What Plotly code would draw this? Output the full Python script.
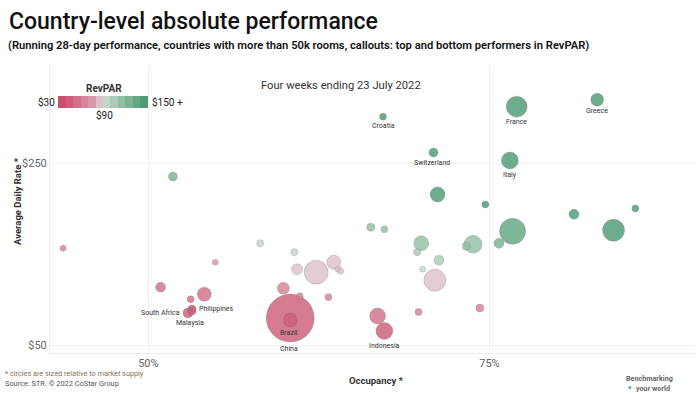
import plotly.graph_objects as go
import pandas as pd

# ---------------- data ----------------
countries = [
    "Greece", "France", "Croatia", "Switzerland", "Italy",
    "", "", "", "", "", "", "", "", "", "", "", "", "", "", "",
    "", "", "", "", "", "", "", "", "", "", "", "",
    "China", "Brazil", "", "Indonesia", "",
    "", "", "", "", "", "", "Philippines", "South Africa", "Malaysia",
]
occupancy = [  # %
    82.9, 77.0, 67.2, 70.9, 76.5,
    71.2, 74.7, 81.2, 85.7, 76.7, 84.1, 75.7, 73.8, 73.3, 70.0, 69.7, 66.3, 67.3, 71.3, 70.1,
    71.0, 74.3, 63.6, 63.9, 64.1, 62.3, 58.2, 60.7, 60.9, 59.9, 61.1, 63.2,
    60.4, 60.4, 66.8, 67.3, 69.8,
    43.75, 51.8, 54.9, 50.9, 53.1, 54.1, 53.2, 52.9, 53.2,
]
adr = [  # USD
    320.3, 312.6, 301.6, 262.1, 253.3,
    215.9, 204.9, 194.0, 200.5, 175.3, 176.4, 162.1, 161.0, 158.8, 162.1, 152.2, 179.7, 177.5, 143.4, 133.5,
    121.4, 90.7, 141.2, 133.5, 131.3, 130.2, 162.1, 152.2, 133.5, 112.6, 103.8, 102.7,
    79.7, 77.5, 81.9, 65.4, 86.3,
    156.6, 235.7, 141.2, 113.7, 100.5, 106.0, 89.6, 85.2, 87.4,
]
supply = [  # thousand rooms (relative market supply)
    246, 643, 71, 118, 421,
    328, 71, 146, 71, 986, 706, 146, 472, 93, 328, 71, 93, 71, 146, 52,
    706, 93, 286, 52, 52, 840, 71, 71, 176, 210, 71, 71,
    3360, 286, 373, 421, 71,
    52, 118, 52, 146, 71, 286, 93, 146, 93,
]
x_tick_vals = [50, 75]
x_tick_text = ["50%", "75%"]
y_tick_vals = [50, 250]
y_tick_text = ["$50", "$250"]
revpar_min, revpar_mid, revpar_max = 30, 90, 150

df = pd.DataFrame({"country": countries, "occ": occupancy, "adr": adr, "supply": supply})
df["revpar"] = df["occ"] * df["adr"] / 100.0
df = df.sort_values("supply", ascending=False).reset_index(drop=True)

# ---------------- styles ----------------
W, H = 700, 394
L, R, T, B = 50, 5, 65, 41
PW, PH = W - L - R, H - T - B
FONT = "Roboto"

steps = ["#c8506d", "#cc607b", "#d07189", "#d48398", "#d898a9", "#dec1ca",
         "#c2d7cb", "#a9cbb7", "#92c0a5", "#7bb394", "#64a784", "#4e9b75"]
colorscale = []
n = len(steps)
for i, c in enumerate(steps):
    colorscale.append([i / n, c])
    colorscale.append([(i + 1) / n, c])

max_diam = 48
sizeref = 2.0 * df["supply"].max() / max_diam ** 2

fig = go.Figure()
fig.add_trace(go.Scatter(
    x=df["occ"], y=df["adr"], mode="markers",
    text=df["country"],
    marker=dict(
        size=df["supply"], sizemode="area", sizeref=sizeref,
        color=df["revpar"], colorscale=colorscale, cmin=revpar_min, cmax=revpar_max,
        opacity=0.82,
        line=dict(color="rgba(90,90,90,0.35)", width=0.8),
        showscale=True,
        colorbar=dict(
            orientation="h", xref="container", yref="container",
            x=112 / W, xanchor="center", y=(H - 102) / H, yanchor="middle",
            len=90, lenmode="pixels", thickness=12, thicknessmode="pixels",
            xpad=0, ypad=0, outlinewidth=0, showticklabels=False, ticks="",
            title=dict(text=""),
        ),
    ),
    hovertemplate="%{text}<br>Occ %{x:.1f}%<br>ADR $%{y:.0f}<extra></extra>",
    showlegend=False,
))

# callout labels (pixel offsets are styling)
label_style = {
    "Greece": dict(xshift=0, yshift=-11, xanchor="center"),
    "France": dict(xshift=0, yshift=-15, xanchor="center"),
    "Croatia": dict(xshift=0, yshift=-9, xanchor="center"),
    "Switzerland": dict(xshift=-1, yshift=-10, xanchor="center"),
    "Italy": dict(xshift=0, yshift=-15, xanchor="center"),
    "Brazil": dict(xshift=-1, yshift=-13, xanchor="center"),
    "China": dict(xshift=-1, yshift=-31, xanchor="center"),
    "Indonesia": dict(xshift=0, yshift=-15, xanchor="center"),
    "South Africa": dict(xshift=-6, yshift=0, xanchor="right"),
    "Malaysia": dict(xshift=-2, yshift=-12, xanchor="center"),
    "Philippines": dict(xshift=5, yshift=0, xanchor="left"),
}
annotations = []
for _, r in df.iterrows():
    if r["country"] in label_style:
        s = label_style[r["country"]]
        annotations.append(dict(
            x=r["occ"], y=r["adr"], xref="x", yref="y", text=r["country"],
            showarrow=False, xshift=s["xshift"], yshift=s["yshift"],
            xanchor=s["xanchor"], yanchor="middle",
            font=dict(family=FONT, size=7, color="#333333"),
        ))

def cont(text, x, y, size, color="#222", weight=None, xanchor="left", angle=0, family=FONT):
    f = dict(family=family, size=size, color=color)
    if weight:
        f["weight"] = weight
    return dict(text=text, x=(x - L) / PW, y=(H - B - y) / PH, xref="paper", yref="paper",
                xanchor=xanchor, yanchor="middle", showarrow=False, font=f, textangle=angle)

annotations += [
    cont("Country-level absolute performance", 7, 22, 23, "#111", 500),
    cont("(Running 28-day performance, countries with more than 50k rooms, callouts: top and bottom performers in RevPAR)",
         6, 46, 11.2, "#111", 600),
    cont("Four weeks ending 23 July 2022", 341, 85, 11.2, "#333", xanchor="center"),
    cont("RevPAR", 104, 88, 10, "#333", 700, xanchor="center"),
    cont("$30", 57, 102, 10, "#222", xanchor="right"),
    cont("$150 +", 150, 102, 10, "#222", xanchor="left"),
    cont("$90", 104, 115, 10, "#222", xanchor="center"),
    cont("Average Daily Rate *", 17, 201, 9.5, "#333", 700, xanchor="center", angle=-90),
    cont("Occupancy *", 376, 380, 9.5, "#333", 700, xanchor="center"),
    cont("* circles are sized relative to market supply", 3, 373, 7.3, "#8a6f55"),
    cont("Source: STR. © 2022 CoStar Group", 3, 383, 7.4, "#555"),
    cont("Benchmarking", 624, 378, 7.2, "#666", 700),
    cont("your world", 672, 388, 7.2, "#666", 700, xanchor="right"),
    cont("▾", 626, 388, 7, "#2bb3a3"),
]

fig.update_layout(
    width=W, height=H,
    margin=dict(l=L, r=R, t=T, b=B, autoexpand=False),
    paper_bgcolor="white", plot_bgcolor="white",
    font=dict(family=FONT, color="#555"),
    annotations=annotations,
    xaxis=dict(
        range=[42.79, 90.07], tickvals=x_tick_vals, ticktext=x_tick_text,
        showgrid=True, gridcolor="#f0f0f0", gridwidth=1, zeroline=False,
        showline=True, linecolor="#ececec", linewidth=1, ticks="",
        tickfont=dict(family=FONT, size=11, color="#666"),
    ),
    yaxis=dict(
        range=[41.2, 358.5], tickvals=y_tick_vals, ticktext=y_tick_text,
        showgrid=True, gridcolor="#f0f0f0", gridwidth=1, zeroline=False,
        showline=True, linecolor="#ececec", linewidth=1, ticks="",
        tickfont=dict(family=FONT, size=11, color="#666"),
    ),
)

fig.write_html("out.html", config={"displayModeBar": False},
               post_script="document.body.style.margin='0';document.body.style.padding='0';")
